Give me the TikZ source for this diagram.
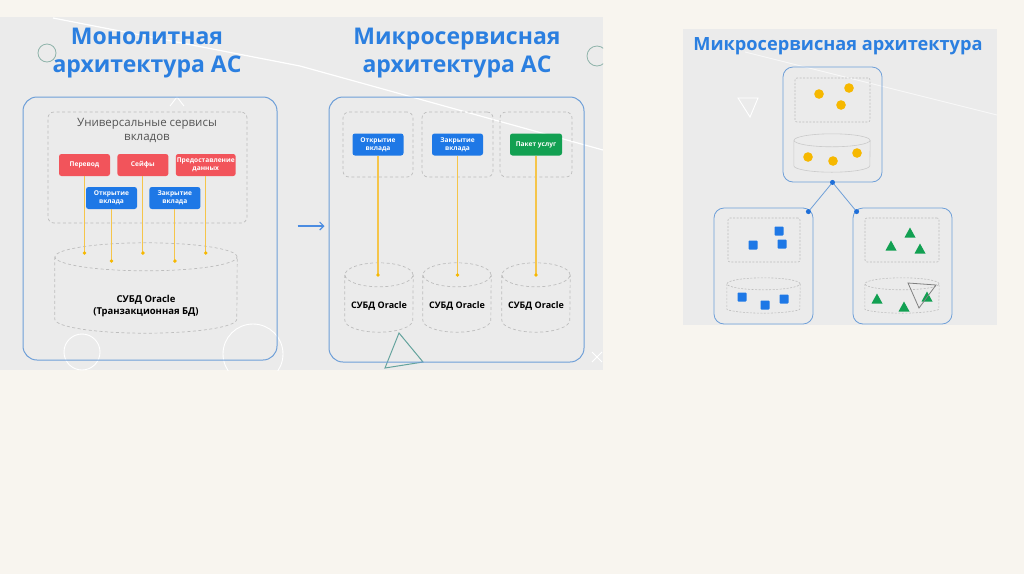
\documentclass[tikz,border=0pt]{standalone}
\usepackage{fontspec}
\setmainfont{Open Sans}
\usetikzlibrary{arrows.meta,positioning,calc}
\definecolor{paper}{HTML}{F8F5EF}
\definecolor{panel}{HTML}{EBEBEB}
\definecolor{ttl}{HTML}{2B7FE0}
\definecolor{frm}{HTML}{6E9FD8}
\definecolor{hubc}{HTML}{1E6FD9}
\definecolor{rule}{HTML}{BDBDBD}
\definecolor{muted}{HTML}{555555}
\definecolor{svcr}{HTML}{F2545B}
\definecolor{svcb}{HTML}{1E78E6}
\definecolor{svcg}{HTML}{12A052}
\definecolor{wire}{HTML}{F5C54A}
\definecolor{dotc}{HTML}{F6B800}
\definecolor{deco}{HTML}{8FB3AA}
\tikzset{
  head/.style={font=\bfseries\fontsize{23}{28}\selectfont, text=ttl, align=center},
  frame/.style={draw=frm, line width=1pt, rounded corners=14pt},
  grp/.style={draw=rule, line width=0.7pt, dash pattern=on 3pt off 2.5pt, rounded corners=6pt},
  slot/.style={draw=rule, line width=0.6pt, dash pattern=on 2pt off 1.5pt, rounded corners=2pt},
  btn/.style={rounded corners=2.5pt, text=white, align=center, inner sep=1pt,
              minimum height=22pt, font=\bfseries\fontsize{6.6}{7.8}\selectfont},
  redb/.style={btn, fill=svcr, minimum width=51pt},
  blub/.style={btn, fill=svcb, minimum width=51pt},
  grnb/.style={btn, fill=svcg, minimum width=52pt},
  db/.style={inner sep=0pt, align=center, font=\bfseries\fontsize{9.5}{12}\selectfont},
  cyl/.style={draw=rule, line width=0.7pt, dash pattern=on 3pt off 2.5pt},
  cylsolid/.style={draw=rule!80, line width=0.6pt},
  wr/.style={draw=wire, line width=1.1pt},
  ar/.style={-{Straight Barb[length=4pt,width=8pt]}, draw=hubc!80, line width=1.1pt},
  link/.style={draw=frm, line width=0.8pt},
}
% цилиндр БД вокруг узла: #2 узел, #3 отступ крышки, #4 полуширина, #5 радиус крышки
\newcommand{\dbcyl}[5][cyl]{%
  \draw[#1] ($(#2.north)+(0,-#3)$) ellipse [x radius=#4pt, y radius=#5pt]
    ($(#2.north west)+(0,-#3)$) -- ($(#2.south west)+(0,-#5)$)
    arc[start angle=180, end angle=360, x radius=#4pt, y radius=#5pt]
    -- ($(#2.north east)+(0,-#3)$);}

\begin{document}
\begin{tikzpicture}[x=1pt, y=-1pt]
  \useasboundingbox (0,0) rectangle (1024,574);
  \fill[paper] (0,0) rectangle (1024,574);
  \fill[panel] (0,17) rectangle (603,370);
  \fill[panel] (683,29) rectangle (997,325);

  % --- декор ---
  \begin{scope}
    \clip (0,17) rectangle (603,370);
    \draw[white, line width=1.2pt] (53,18) -- (300,66) -- (603,150);
    \draw[deco, line width=0.8pt] (47,53) circle (9pt);
    \draw[deco, line width=0.8pt] (597,56) circle (10pt);
    \draw[white, line width=0.9pt] (82,352) circle (18pt);
    \draw[white, line width=0.9pt] (253,354) circle (30pt);
    \draw[white, line width=0.9pt] (170,106) -- (177,97) -- (184,106);
    \draw[white, line width=0.9pt] (592,352) -- (602,362) (602,352) -- (592,362);
  \end{scope}
  \draw[deco!70!teal, line width=1pt] (399,333) -- (423,362) -- (385,368) -- cycle;
  \draw[white, line width=0.8pt, opacity=0.7] (745,52) -- (997,115);
  \draw[white, line width=0.9pt] (738,98) -- (758,98) -- (750,117) -- cycle;

  % --- монолит ---
  \node[head] (t1) at (147,53) {Монолитная\\архитектура АС};
  \node[frame, minimum width=254pt, minimum height=263pt] (mono) at (150,228.5) {};
  \node[grp, minimum width=199pt, minimum height=111pt] (uni) at (147.5,167.5) {};
  \node[font=\fontsize{11.5}{14}\selectfont, text=muted, align=center] (unit) at (147,130)
       {Универсальные сервисы\\вкладов};
  \node[redb] (per) at (84.5,165) {Перевод};
  \node[redb, right=7pt of per] (saf) {Сейфы};
  \node[redb, minimum width=58pt, right=7pt of saf] (pred) {Предоставление\\данных};
  \node[blub] (otk) at (111.5,198) {Открытие\\вклада};
  \node[blub, right=12pt of otk] (zak) {Закрытие\\вклада};
  \node[db, minimum width=182pt, minimum height=54pt] (ora) at (146,306)
       {СУБД Oracle\\(Транзакционная БД)};
  \dbcyl{ora}{22}{91}{14}

  \coordinate (rowa) at (0,253);
  \coordinate (rowb) at (0,261);
  \foreach \s in {per,saf,pred} {
    \draw[wr] (\s.south) -- (\s.south |- rowa);
    \fill[dotc] (\s.south |- rowa) circle (1.9pt);
  }
  \foreach \s in {otk,zak} {
    \draw[wr] (\s.south) -- (\s.south |- rowb);
    \fill[dotc] (\s.south |- rowb) circle (1.9pt);
  }

  % --- микросервисы ---
  \node[head] (t2) at (457,53) {Микросервисная\\архитектура АС};
  \node[frame, minimum width=255pt, minimum height=265pt] (micro) at (456.5,229.5) {};
  \node[grp, minimum width=70pt, minimum height=65pt] (g1) at (378,144.5) {};
  \node[grp, minimum width=71pt, minimum height=65pt] (g2) at (457.5,144.5) {};
  \node[grp, minimum width=72pt, minimum height=65pt] (g3) at (536,144.5) {};
  \node[blub] (otk2) at (g1) {Открытие\\вклада};
  \node[blub] (zak2) at (g2) {Закрытие\\вклада};
  \node[grnb] (pak) at (g3) {Пакет услуг};
  \node[db, font=\bfseries\fontsize{9}{11}\selectfont, minimum width=68pt, minimum height=52pt] (ora1) at (379,306) {СУБД Oracle};
  \node[db, font=\bfseries\fontsize{9}{11}\selectfont, minimum width=68pt, minimum height=52pt] (ora2) at (457,306) {СУБД Oracle};
  \node[db, font=\bfseries\fontsize{9}{11}\selectfont, minimum width=68pt, minimum height=52pt] (ora3) at (536,306) {СУБД Oracle};
  \foreach \d in {ora1,ora2,ora3} \dbcyl{\d}{5}{34}{12};

  \coordinate (rowc) at (0,275);
  \foreach \s in {otk2,zak2,pak} {
    \draw[wr] (\s.south) -- (\s.south |- rowc);
    \fill[dotc] (\s.south |- rowc) circle (1.9pt);
  }

  \coordinate (gap) at (0,226);
  \draw[ar] ($(mono.east |- gap)+(20,0)$) -- ($(micro.west |- gap)+(-4,0)$);

  % --- схема справа ---
  \node[head, font=\bfseries\fontsize{18.2}{22}\selectfont] (t3) at (838,46) {Микросервисная архитектура};
  \node[frame, line width=0.8pt, rounded corners=10pt, minimum width=99pt, minimum height=115pt] (ms) at (832.5,124.5) {};
  \node[slot, minimum width=75pt, minimum height=44pt] (ms1) at (832.5,100) {};
  \node[inner sep=0pt, minimum width=76pt, minimum height=25pt] (ms2) at (832,159.5) {};
  \dbcyl[cylsolid]{ms2}{6.5}{38}{6.5}

  \node[frame, line width=0.8pt, rounded corners=10pt, minimum width=99pt, minimum height=116pt] (bl) at (763.5,266) {};
  \node[slot, minimum width=72pt, minimum height=44pt] (bl1) at (764,240) {};
  \node[inner sep=0pt, minimum width=73pt, minimum height=23pt] (bl2) at (763.5,301.5) {};
  \dbcyl[slot]{bl2}{6}{36.5}{6}

  \node[frame, line width=0.8pt, rounded corners=10pt, minimum width=99pt, minimum height=116pt] (br) at (902.5,266) {};
  \node[slot, minimum width=74pt, minimum height=44pt] (br1) at (902,240) {};
  \node[inner sep=0pt, minimum width=74pt, minimum height=23pt] (br2) at (902,301.5) {};
  \dbcyl[slot]{br2}{6}{37}{6}

  \coordinate (jl) at ([shift={(-5,4)}]bl.north east);
  \coordinate (jr) at ([shift={(4,4)}]br.north west);
  \draw[link] (ms.south) -- (jl);
  \draw[link] (ms.south) -- (jr);
  \foreach \c in {ms.south,jl,jr} \fill[hubc] (\c) circle (2.5pt);

  \foreach \x/\y in {819/94, 849/88, 841/105, 808/157, 833/161, 857/153}
    \fill[dotc] (\x,\y) circle (4.8pt);
  \foreach \x/\y in {779/231, 753/245, 782/244, 742/297, 765/305, 784/299}
    \fill[svcb, rounded corners=0.8pt] (\x-4.5,\y-4.5) rectangle ++(9,9);
  \foreach \x/\y in {910/233, 891/246, 920/249, 877/299, 904/307, 927/297}
    \fill[svcg] (\x,\y-5.5) -- (\x+5.5,\y+4.5) -- (\x-5.5,\y+4.5) -- cycle;
  \draw[gray, line width=0.8pt] (908,283) -- (936,285) -- (919,308) -- cycle;
\end{tikzpicture}
\end{document}
